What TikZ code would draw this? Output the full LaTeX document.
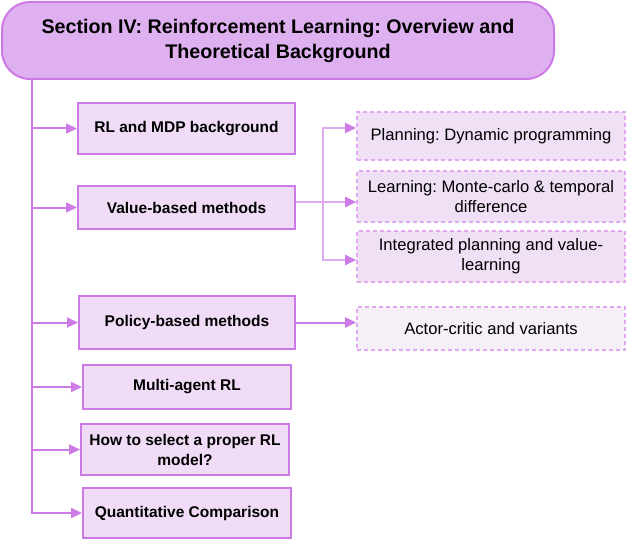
\documentclass[tikz,border=0pt]{standalone}
\usepackage{fontspec}
\setmainfont{Liberation Sans}
\usepackage{xcolor}
\usetikzlibrary{arrows.meta,calc,positioning}
\definecolor{secpurple}{HTML}{CC7AE6}
\definecolor{secfill}{HTML}{DFB0EF}
\definecolor{boxfill}{HTML}{F0DCF7}
\definecolor{subline}{HTML}{DFA8F0}
\definecolor{subfill}{HTML}{F0E0F6}
\definecolor{actfill}{HTML}{F5F0F8}
\definecolor{branchline}{HTML}{DFAAF0}
\frenchspacing

\tikzset{
  mainbox/.style={draw=secpurple, line width=2pt, fill=boxfill, inner sep=0pt,
    align=center, font=\fontsize{15.5}{20}\selectfont\bfseries},
  subbox/.style={draw=subline, line width=1.6pt, dash pattern=on 4pt off 3pt,
    fill=subfill, inner sep=0pt, minimum width=268pt, align=center,
    font=\fontsize{16.6}{20}\selectfont},
  link/.style={draw=secpurple, line width=2pt, -{Triangle[length=11pt,width=10pt]}},
  sublink/.style={draw=branchline, line width=2pt,
    -{Triangle[length=11pt,width=10pt,color=secpurple]}},
}

\begin{document}
\begin{tikzpicture}[x=1pt, y=-1pt]
\useasboundingbox (0,0) rectangle (626,540);

% Section title
\node[draw=secpurple, line width=2pt, fill=secfill, rounded corners=28pt,
  minimum width=552pt, minimum height=77pt, inner sep=0pt, align=center,
  font=\fontsize{19.7}{25}\selectfont\bfseries] (title) at (278,40.5)
  {Section IV: Reinforcement Learning: Overview and\\Theoretical Background};

% Main topics
\node[mainbox, minimum width=217pt, minimum height=51pt] (rl) at (186.5,128.5) {RL and MDP background};
\node[mainbox, minimum width=217pt, minimum height=43pt] (value) at (186.5,207.5) {Value-based methods};
\node[mainbox, minimum width=216pt, minimum height=53pt] (policy) at (187,322.5) {Policy-based methods};
\node[mainbox, minimum width=208pt, minimum height=44pt] (multi) at (187,387) {Multi-agent RL};
\node[mainbox, minimum width=208pt, minimum height=51pt] (select) at (185,449.5) {How to select a proper RL\\model?};
\node[mainbox, minimum width=208pt, minimum height=50pt] (quant) at (187,513) {Quantitative Comparison};

% Sub topics
\node[subbox, minimum height=48pt] (planning) at (491,136) {Planning: Dynamic programming};
\node[subbox, minimum height=51pt] (learning) at (491,196.5) {Learning: Monte-carlo \& temporal\\difference};
\node[subbox, minimum height=51pt] (integrated) at (491,256.5) {Integrated planning and value-\\learning};
\node[subbox, fill=actfill, minimum height=43pt] (actor) at (491,328.5) {Actor-critic and variants};

% Trunk
\coordinate (trunk) at (32,79);
\foreach \t in {rl,value,policy,multi,select,quant}
  \draw[link] (trunk) |- (\t.west);

% Value-based branch
\coordinate (vsplit) at (323,202);
\draw[draw=branchline, line width=2pt] ([yshift=5.5pt]value.east) -- (vsplit);
\draw[sublink] (vsplit) |- ([yshift=8pt]planning.west);
\draw[sublink] (vsplit) |- ([yshift=-5.5pt]learning.west);
\draw[sublink] (vsplit) |- ([yshift=-3.5pt]integrated.west);

% Policy-based branch
\draw[link] (policy.east) -- (policy.east -| actor.west);

\end{tikzpicture}
\end{document}
